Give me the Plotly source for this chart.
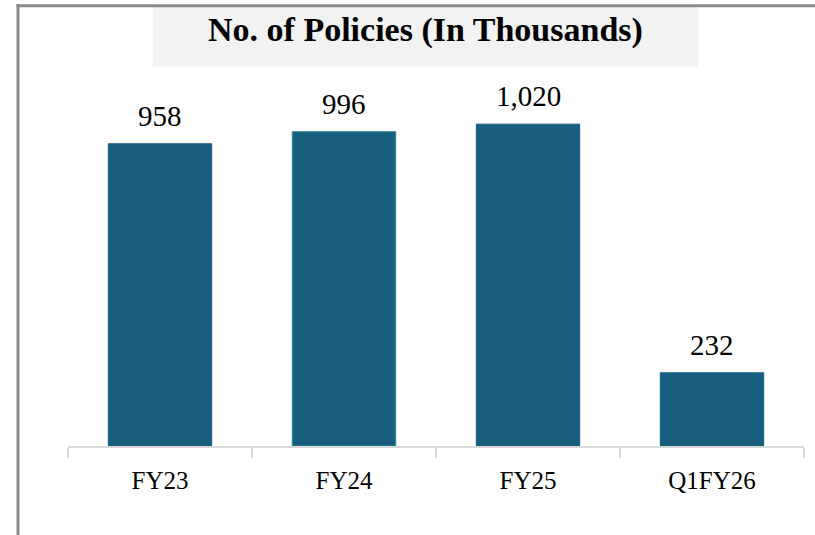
import plotly.graph_objects as go

categories = ["FY23", "FY24", "FY25", "Q1FY26"]
policies = [958, 996, 1020, 232]
labels = ["958", "996", "1,020", "232"]
title_text = "No. of Policies (In Thousands)"

W, H = 815, 535
# plot area in screen pixel coordinates
PL, PR, PT, PB = 68, 804, 80, 446
ML = PL
MR = W - PR
MT = PT
MB = H - PB
PW, PH = PR - PL, PB - PT

def px(x):
    return (x - PL) / PW

def py(y):
    return (PB - y) / PH

bar_color = "#175E7F"
edge_colors = [bar_color, "#2E8A8C", bar_color, bar_color]

fig = go.Figure()
fig.add_trace(go.Bar(
    x=categories, y=policies, width=0.562,
    marker=dict(color=bar_color, line=dict(color=edge_colors, width=1)),
    hoverinfo="x+y",
))

for c, v, t in zip(categories, policies, labels):
    fig.add_annotation(x=c, y=v, text=t, showarrow=False, yanchor="bottom",
                       yshift=10, font=dict(family="Liberation Serif", size=29, color="#000000"))

# title box
fig.add_shape(type="rect", xref="paper", yref="paper",
              x0=px(152.7), x1=px(698.3), y0=py(66.7), y1=py(7.3),
              fillcolor="#F2F2F2", line=dict(width=0), layer="below")
fig.add_annotation(xref="paper", yref="paper", x=px(425), y=py(30), text="<b>" + title_text + "</b>",
                   showarrow=False, xanchor="center", yanchor="middle",
                   font=dict(family="Liberation Serif", size=34, color="#000000"))

# frame lines
fig.add_shape(type="line", xref="paper", yref="paper",
              x0=px(16.5), x1=px(840), y0=py(5.8), y1=py(5.8),
              line=dict(color="#8A8A8A", width=3))
fig.add_shape(type="line", xref="paper", yref="paper",
              x0=px(18), x1=px(18), y0=py(4.3), y1=py(560),
              line=dict(color="#8A8A8A", width=3))

fig.update_layout(
    width=W, height=H,
    margin=dict(l=ML, r=MR, t=MT, b=MB, pad=0),
    paper_bgcolor="white", plot_bgcolor="white",
    showlegend=False,
    xaxis=dict(type="category", showline=True, linecolor="#D9D9D9", linewidth=1.5,
               ticks="outside", tickson="boundaries", ticklen=10, tickcolor="#D9D9D9", tickwidth=1.5,
               ticklabelstandoff=11,
               tickfont=dict(family="Liberation Serif", size=25, color="#000000"),
               showgrid=False, fixedrange=True),
    yaxis=dict(range=[0, 1160], visible=False, showgrid=False, zeroline=False, fixedrange=True),
)

fig.write_html("out.html", config={"displayModeBar": False},
               post_script="document.body.style.margin='0';document.body.style.overflow='hidden';")
